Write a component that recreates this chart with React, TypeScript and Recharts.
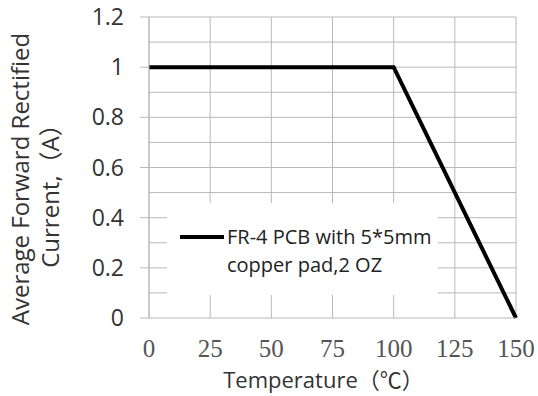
import { Label, Line, LineChart, ReferenceLine, XAxis, YAxis } from 'recharts'

const temperature = [0, 100, 150]
const current = [1, 1, 0]
const xTicks = [0, 25, 50, 75, 100, 125, 150]
const yTicks = [0, 0.2, 0.4, 0.6, 0.8, 1, 1.2]
const yGrid = [0.1, 0.2, 0.3, 0.4, 0.5, 0.6, 0.7, 0.8, 0.9, 1, 1.1, 1.2]
const seriesName = ['FR-4 PCB with 5*5mm', 'copper pad,2 OZ']

const data = temperature.map((t, i) => ({ t, a: current[i] }))

const sans = '"Open Sans", "Noto Sans CJK SC", sans-serif'
const serif = '"Liberation Serif", serif'
const gridColor = '#b8b8b8'

function LegendBox() {
  return (
    <div
      style={{
        position: 'absolute',
        left: 167,
        top: 203,
        width: 271,
        height: 92,
        background: '#fff',
        fontFamily: sans,
        fontSize: 20,
        color: '#222',
      }}
    >
      <div style={{ position: 'absolute', left: 13, top: 32, width: 44, height: 4, background: '#000' }} />
      <div style={{ position: 'absolute', left: 60, top: 20, lineHeight: '28px', whiteSpace: 'nowrap' }}>
        {seriesName[0]}
        <br />
        {seriesName[1]}
      </div>
    </div>
  )
}

function YTitle() {
  return (
    <g fontFamily={sans} fontSize={24} fill="#333">
      <text x={19} y={179} transform="rotate(-90, 19, 179)" textAnchor="middle" dominantBaseline="central">
        Average Forward Rectified
      </text>
      <text x={49} y={190} transform="rotate(-90, 49, 190)" textAnchor="middle" dominantBaseline="central">
        Current,（A）
      </text>
    </g>
  )
}

export default function App() {
  return (
    <div style={{ position: 'absolute', left: 0, top: 0, width: 538, height: 396, background: '#fff' }}>
      <LineChart width={538} height={396} data={data} margin={{ top: 17, right: 22, left: 0, bottom: 0 }}>
        {xTicks.map((x) => (
          <ReferenceLine key={'x' + x} x={x} stroke={gridColor} />
        ))}
        {yGrid.map((y) => (
          <ReferenceLine key={'y' + y} y={y} stroke={gridColor} />
        ))}
        <XAxis
          dataKey="t"
          type="number"
          domain={[0, 150]}
          ticks={xTicks}
          height={78}
          tickLine={false}
          tickSize={0}
          tickMargin={21}
          axisLine={{ stroke: gridColor }}
          tick={{ fontFamily: serif, fontSize: 25, fill: '#555' }}
        >
          <Label
            value="Temperature（℃）"
            position="insideBottom"
            offset={8}
            dx={-9}
            style={{ fontFamily: sans, fontSize: 22, fill: '#333' }}
          />
        </XAxis>
        <YAxis
          type="number"
          domain={[0, 1.2]}
          ticks={yTicks}
          width={149}
          tickSize={9}
          tickMargin={16}
          tickLine={{ stroke: gridColor }}
          axisLine={{ stroke: gridColor }}
          tickFormatter={(v: number) => String(Math.round(v * 10) / 10)}
          tick={{ fontFamily: sans, fontSize: 23, fill: '#333' }}
        >
          <Label content={YTitle} />
        </YAxis>
        <Line dataKey="a" stroke="#000" strokeWidth={4} dot={false} isAnimationActive={false} type="linear" />
      </LineChart>
      <LegendBox />
    </div>
  )
}
